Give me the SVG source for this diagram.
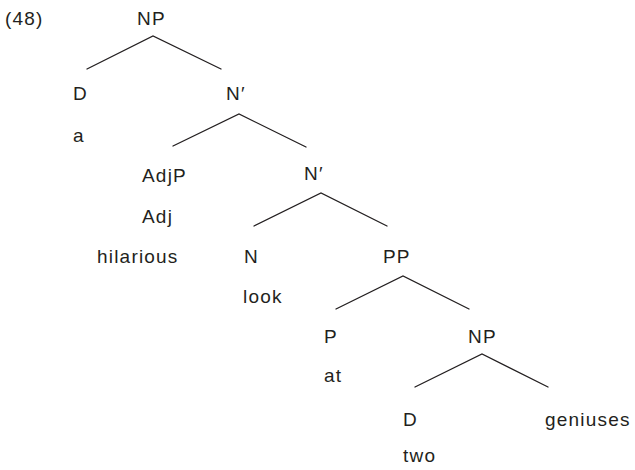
<svg xmlns="http://www.w3.org/2000/svg" width="635" height="470" viewBox="0 0 635 470">
<style>
text{font-family:"Liberation Sans",Arial,sans-serif;font-size:19px;fill:#231f20;letter-spacing:1.2px}
.e{stroke:#231f20;stroke-width:1.3;fill:none;stroke-linecap:round}
</style>
<rect width="635" height="470" fill="#fff"/>
<text x="5" y="25">(48)</text>
<g id="np1"><text x="137" y="25">NP</text></g>
<g id="d1"><text x="73" y="100">D</text></g>
<g id="a"><text x="73" y="142">a</text></g>
<g id="nbar1"><text x="226" y="100">N′</text></g>
<g id="adjp"><text x="142" y="182">AdjP</text></g>
<g id="adj"><text x="142" y="223">Adj</text></g>
<g id="hilarious"><text x="97" y="263">hilarious</text></g>
<g id="nbar2"><text x="304" y="180">N′</text></g>
<g id="n"><text x="244" y="263">N</text></g>
<g id="look"><text x="243" y="303">look</text></g>
<g id="pp"><text x="383" y="263">PP</text></g>
<g id="p"><text x="324" y="343">P</text></g>
<g id="at"><text x="324" y="382">at</text></g>
<g id="np2"><text x="468" y="343">NP</text></g>
<g id="d2"><text x="403" y="426">D</text></g>
<g id="two"><text x="403" y="462">two</text></g>
<g id="geniuses"><text x="545" y="426">geniuses</text></g>
<g id="connectors" class="e">
<polyline points="87,69 153,36 221,69"/>
<polyline points="173,146 239,114 306,147"/>
<polyline points="254,226 321,193 387,226"/>
<polyline points="336,309 403,276 469,309"/>
<polyline points="415,387 482,354 548,387"/>
</g>
</svg>
